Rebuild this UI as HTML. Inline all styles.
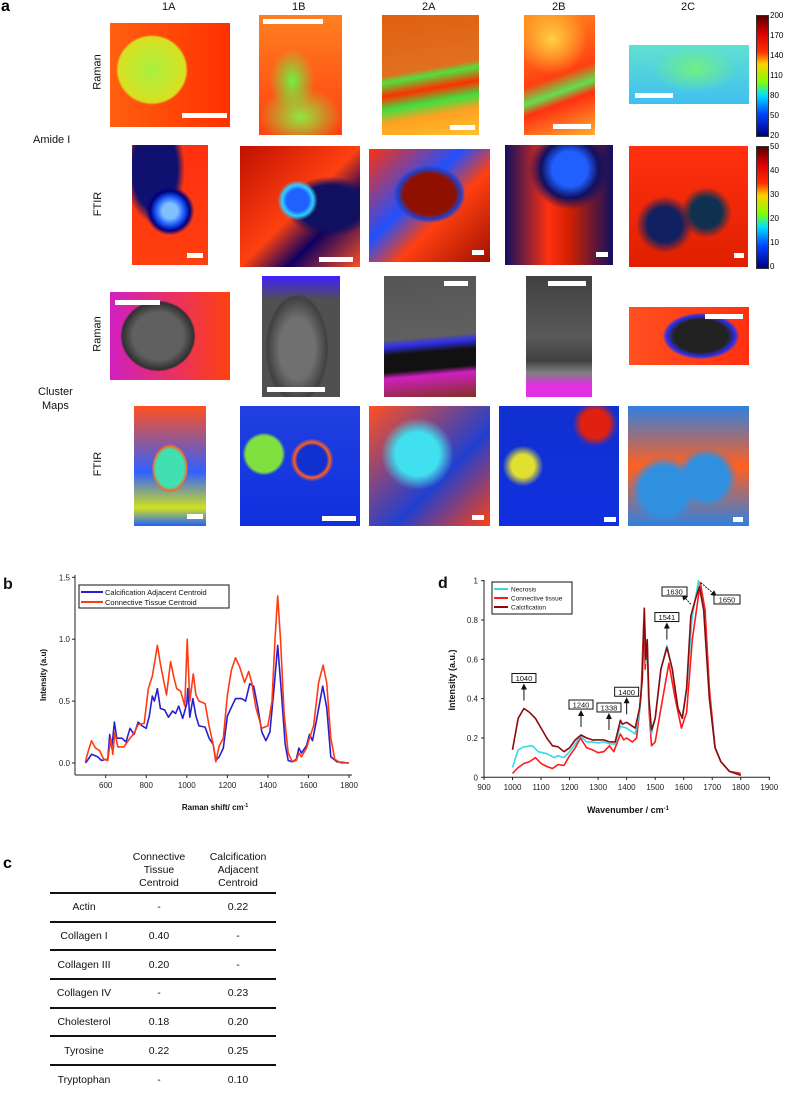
<!DOCTYPE html>
<html><head><meta charset="utf-8">
<style>
body{margin:0;background:#fff;width:789px;height:1088px;position:relative;overflow:hidden;font-family:"Liberation Sans",sans-serif;}
.abs{position:absolute}
.img{position:absolute;overflow:hidden}
.sb{position:absolute;background:#fff;height:5px}
.lbl{position:absolute;font-size:11px;color:#111;white-space:nowrap}
.rot{transform:rotate(-90deg);transform-origin:center}
.cb{position:absolute;width:11px;border:1px solid #333}
.cbt{position:absolute;font-size:8px;left:770px}
table{border-collapse:collapse}
</style></head><body>
<div class="abs" style="left:1px;top:-2px;font-weight:bold;font-size:16px">a</div>
<div class="lbl" style="left:162px;top:1px">1A</div>
<div class="lbl" style="left:292px;top:1px">1B</div>
<div class="lbl" style="left:422px;top:1px">2A</div>
<div class="lbl" style="left:552px;top:1px">2B</div>
<div class="lbl" style="left:681px;top:1px">2C</div>
<div class="lbl rot" style="left:80px;top:66px">Raman</div>
<div class="lbl rot" style="left:86px;top:198px">FTIR</div>
<div class="lbl rot" style="left:80px;top:328px">Raman</div>
<div class="lbl rot" style="left:86px;top:458px">FTIR</div>
<div class="lbl" style="left:33px;top:134px">Amide I</div>
<div class="lbl" style="left:38px;top:385px;text-align:center;line-height:14px">Cluster<br>Maps</div>

<div id="imgs"></div>

<div class="cb" style="left:756px;top:15px;height:120px;background:linear-gradient(#5a0000,#e00000 15%,#ff3000 30%,#ffd000 40%,#80ff00 55%,#00e0ff 66%,#0040ff 82%,#000080)"></div>
<div class="cb" style="left:756px;top:146px;height:121px;background:linear-gradient(#5a0000,#e00000 15%,#ff3000 30%,#ffd000 40%,#80ff00 55%,#00e0ff 66%,#0040ff 82%,#000080)"></div>
<div id="cbt"></div>

<svg class="abs" style="left:0;top:0" width="789" height="1088" id="charts"></svg>

<div class="abs" style="left:3px;top:855px;font-weight:bold;font-size:16px">c</div>
<table class="abs" style="left:50px;top:850px;width:226px;font-size:10.5px;color:#111;text-align:center">
<tr style="height:43px;border-bottom:2px solid #111"><td style="width:66px"></td><td style="width:80px;line-height:13px;vertical-align:bottom;padding-bottom:2px">Connective<br>Tissue<br>Centroid</td><td style="line-height:13px;vertical-align:bottom;padding-bottom:2px">Calcification<br>Adjacent<br>Centroid</td></tr>
</table>

<script>
// ---------- images ----------
const imgs=[
 // [name,x,y,w,h,background,scalebar]
 ['raman-1a',110,23,120,104,'radial-gradient(ellipse 40% 45% at 35% 45%,#a8f040,#d8e020 70%,transparent 75%),linear-gradient(90deg,#ff6010,#ff3000)',[182,113,45]],
 ['raman-1b',259,15,83,120,'radial-gradient(ellipse 30% 30% at 40% 55%,#70f040,transparent 90%),radial-gradient(ellipse 50% 25% at 50% 85%,#90e840,transparent),linear-gradient(#ff8020,#ff4010)',[263,19,60]],
 ['raman-2a',382,15,97,120,'linear-gradient(170deg,#e06010 0%,#e07020 45%,#50e040 50%,#ff3000 60%,#40e040 70%,#ffa020 80%,#ffc030)',[450,125,25]],
 ['raman-2b',524,15,71,120,'radial-gradient(ellipse 50% 30% at 40% 20%,#ffd040,transparent),linear-gradient(160deg,#ff9020,#ff4010 50%,#60e050 62%,#ff3010 70%,#ffb030)',[553,124,38]],
 ['raman-2c',629,45,120,59,'radial-gradient(ellipse 35% 40% at 55% 40%,#70f080,transparent),linear-gradient(#60e0d0,#40c0f0)',[635,93,38]],
 ['ftir-1a',132,145,76,120,'radial-gradient(circle at 50% 55%,#80c0ff 10%,#2060ff 18%,#000080 26%,transparent 32%),radial-gradient(ellipse at 30% 20%,#101070 30%,transparent 40%),linear-gradient(#ff3010,#ff4010)',[187,253,16]],
 ['ftir-1b',240,146,120,121,'radial-gradient(circle at 48% 45%,#2060ff 12%,#30d0ff 17%,transparent 22%),radial-gradient(ellipse at 75% 50%,#101060 25%,transparent 35%),linear-gradient(135deg,#c01000,#ff4010 50%,#100060 70%,#ff5020)',[319,257,34]],
 ['ftir-2a',369,149,121,113,'radial-gradient(ellipse 35% 30% at 50% 40%,#901000 60%,#2040d0 75%,transparent 85%),linear-gradient(135deg,#ff3010,#2050ff 40%,#ff4010 60%,#a01000)',[472,250,12]],
 ['ftir-2b',505,145,108,120,'radial-gradient(circle at 60% 20%,#2060ff 15%,#101060 25%,transparent 35%),linear-gradient(90deg,#101060,#ff3010 40%,#d02000 60%,#101060)',[596,252,12]],
 ['ftir-2c',629,146,119,121,'radial-gradient(circle at 30% 65%,#102060 15%,transparent 25%),radial-gradient(circle at 65% 55%,#103050 15%,transparent 25%),linear-gradient(#ff3010,#e02000)',[734,253,10]],
 ['cluster-raman-1a',110,292,120,88,'radial-gradient(ellipse 35% 45% at 40% 50%,#606060 60%,#303030 85%,transparent 90%),linear-gradient(90deg,#d020c0,#ff4010)',[115,300,45]],
 ['cluster-raman-1b',262,276,78,121,'radial-gradient(ellipse 45% 50% at 45% 60%,#707070 50%,#404040 85%,transparent 90%),linear-gradient(#4020ff,#505050 20%)',[267,387,58]],
 ['cluster-raman-2a',384,276,92,121,'linear-gradient(175deg,#555 0%,#606060 50%,#3030f0 55%,#111 62%,#111 75%,#d020c0 80%,#803020)',[444,281,24]],
 ['cluster-raman-2b',526,276,66,121,'linear-gradient(#404040,#5a5a5a 50%,#404040 70%,#808080 80%,#e030e0 90%)',[548,281,38]],
 ['cluster-raman-2c',629,307,120,58,'radial-gradient(ellipse 32% 40% at 60% 50%,#222 70%,#3030f0 90%,transparent),linear-gradient(90deg,#ff5020,#ff3010)',[705,314,38]],
 ['cluster-ftir-1a',134,406,72,120,'radial-gradient(ellipse 25% 20% at 50% 52%,#40e0b0 80%,#ff6020 95%,transparent),linear-gradient(#ff5020,#3060ff 55%,#d0e020 85%,#2060ff)',[187,514,16]],
 ['cluster-ftir-1b',240,406,120,120,'radial-gradient(circle at 20% 40%,#80e040 15%,transparent 18%),radial-gradient(circle at 60% 45%,#1030d0 15%,#ff6020 18%,transparent 22%),linear-gradient(#2040e0,#1030e0)',[322,516,34]],
 ['cluster-ftir-2a',369,406,121,120,'radial-gradient(ellipse 30% 30% at 40% 40%,#40e0f0 60%,transparent),linear-gradient(135deg,#ff5020,#2040d0 60%,#ff4010)',[472,515,12]],
 ['cluster-ftir-2b',499,406,120,120,'radial-gradient(circle at 20% 50%,#e0e030 10%,transparent 18%),radial-gradient(circle at 80% 15%,#e02010 10%,transparent 16%),linear-gradient(#1030d0,#1030e0)',[604,517,12]],
 ['cluster-ftir-2c',628,406,121,120,'radial-gradient(circle at 30% 70%,#3090e0 20%,transparent 28%),radial-gradient(circle at 65% 60%,#3090e0 20%,transparent 28%),linear-gradient(#3080e0,#ff6020 50%,#3080e0)',[733,517,10]]
];
const ic=document.getElementById('imgs');
imgs.forEach(d=>{
  const e=document.createElement('div');e.className='img';
  
  
  e.style.cssText=`left:${d[1]}px;top:${d[2]}px;width:${d[3]}px;height:${d[4]}px;background:${d[5]}`;
  ic.appendChild(e);
  const s=document.createElement('div');s.className='sb';
  
  
  s.style.cssText=`left:${d[6][0]}px;top:${d[6][1]}px;width:${d[6][2]}px`;
  ic.appendChild(s);
});
const cb1=['200','170','140','110','80','50','20'], cb2=['50','40','30','20','10','0'];
const ct=document.getElementById('cbt');
cb1.forEach((t,i)=>{const e=document.createElement('div');e.className='cbt';
  
  
  e.style.top=(11+i*20)+'px';e.textContent=t;ct.appendChild(e);});
cb2.forEach((t,i)=>{const e=document.createElement('div');e.className='cbt';
  
  
  e.style.top=(142+i*24)+'px';e.textContent=t;ct.appendChild(e);});

// ---------- table ----------
const rowNames=['Actin','Collagen I','Collagen III','Collagen IV','Cholesterol','Tyrosine','Tryptophan'];
const connVals=['-','0.40','0.20','-','0.18','0.22','-'];
const calcVals=['0.22','-','-','0.23','0.20','0.25','0.10'];
const tb=document.querySelector('table');
rowNames.forEach((n,i)=>{
  const tr=document.createElement('tr');
  
  
  tr.style.height='28.7px';
  if(i<rowNames.length-1) tr.style.borderBottom='2px solid #111';
  tr.innerHTML=`<td>${n}</td><td>${connVals[i]}</td><td>${calcVals[i]}</td>`;
  tb.appendChild(tr);
});

// ---------- chart b ----------
const bBlueX=[500,510,530,560,580,600,610,620,630,643,655,680,700,720,740,760,780,800,815,830,840,855,870,890,910,930,945,960,980,1000,1005,1015,1030,1045,1060,1090,1110,1130,1143,1160,1180,1200,1220,1240,1270,1290,1310,1330,1350,1370,1390,1410,1430,1448,1465,1485,1500,1520,1540,1553,1565,1590,1605,1620,1640,1670,1690,1710,1740,1800];
const bBlueY=[0,0.02,0.07,0.05,0.02,0.03,0.02,0.23,0.12,0.33,0.2,0.2,0.17,0.28,0.23,0.33,0.3,0.28,0.38,0.54,0.5,0.6,0.44,0.43,0.37,0.42,0.4,0.46,0.36,0.48,0.6,0.37,0.52,0.38,0.3,0.29,0.2,0.15,0.02,0.05,0.12,0.38,0.45,0.52,0.52,0.5,0.64,0.62,0.45,0.25,0.18,0.25,0.6,0.95,0.6,0.15,0.02,0.01,0.03,0.12,0.08,0.14,0.23,0.18,0.35,0.62,0.45,0.05,0.01,0];
const bRedX=[500,515,530,550,570,590,610,625,635,645,660,690,720,740,760,790,810,830,855,870,900,920,935,950,970,990,1002,1015,1032,1045,1060,1090,1110,1130,1143,1160,1180,1200,1220,1240,1260,1285,1305,1320,1340,1370,1400,1420,1435,1448,1462,1480,1500,1520,1540,1553,1565,1590,1605,1625,1650,1672,1690,1710,1730,1760,1800];
const bRedY=[0.01,0.1,0.18,0.12,0.1,0.03,0.02,0.2,0.07,0.25,0.13,0.13,0.2,0.24,0.31,0.32,0.6,0.7,0.95,0.8,0.55,0.82,0.7,0.6,0.58,0.46,1.0,0.5,0.72,0.55,0.5,0.48,0.3,0.15,0.01,0.14,0.2,0.55,0.75,0.85,0.78,0.65,0.74,0.65,0.45,0.28,0.3,0.5,1.0,1.35,1.0,0.4,0.08,0.01,0.02,0.08,0.05,0.12,0.2,0.3,0.65,0.79,0.65,0.2,0.03,0,0];
const bXTicks=[600,800,1000,1200,1400,1600,1800];
const bYTicks=[0,0.5,1.0,1.5];

// ---------- chart d ----------
const dCalcX=[1000,1020,1040,1060,1080,1100,1120,1140,1160,1180,1200,1220,1240,1260,1280,1300,1320,1340,1360,1378,1385,1400,1420,1430,1445,1455,1462,1467,1472,1478,1487,1500,1520,1541,1560,1580,1595,1610,1625,1640,1655,1670,1690,1710,1730,1760,1800];
const dCalcY=[0.14,0.3,0.35,0.33,0.3,0.25,0.2,0.16,0.155,0.13,0.15,0.19,0.215,0.2,0.19,0.19,0.19,0.18,0.18,0.29,0.27,0.28,0.26,0.25,0.35,0.5,0.86,0.6,0.7,0.4,0.24,0.3,0.55,0.66,0.55,0.35,0.3,0.45,0.82,0.9,0.97,0.85,0.4,0.15,0.08,0.03,0.01];
const dNecX=[1000,1020,1040,1070,1090,1120,1145,1160,1180,1200,1220,1238,1260,1280,1300,1320,1340,1360,1378,1400,1420,1430,1445,1455,1462,1467,1472,1478,1487,1500,1520,1541,1560,1580,1595,1610,1630,1652,1670,1690,1710,1730,1760,1800];
const dNecY=[0.05,0.14,0.155,0.16,0.13,0.12,0.1,0.11,0.1,0.13,0.17,0.21,0.18,0.18,0.175,0.18,0.17,0.17,0.26,0.25,0.23,0.22,0.33,0.5,0.85,0.58,0.7,0.38,0.22,0.3,0.55,0.67,0.55,0.35,0.3,0.45,0.82,1.0,0.85,0.4,0.15,0.08,0.03,0.01];
const dConX=[1000,1020,1040,1060,1080,1100,1120,1140,1160,1180,1200,1220,1238,1260,1280,1300,1320,1340,1355,1378,1390,1400,1420,1435,1450,1460,1465,1472,1478,1487,1500,1520,1548,1570,1592,1610,1630,1658,1675,1690,1710,1730,1760,1800];
const dConY=[0.02,0.05,0.07,0.08,0.1,0.07,0.055,0.045,0.065,0.06,0.11,0.15,0.2,0.15,0.14,0.125,0.13,0.16,0.13,0.22,0.19,0.2,0.18,0.2,0.4,0.8,0.55,0.68,0.35,0.16,0.18,0.35,0.58,0.4,0.25,0.33,0.7,0.99,0.85,0.45,0.15,0.08,0.03,0.02];
const dXTicks=[900,1000,1100,1200,1300,1400,1500,1600,1700,1800,1900];
const dYTicks=[0,0.2,0.4,0.6,0.8,1];
const dAnnLabels=['1040','1240','1338','1400','1541'];
const dAnnX=[1040,1240,1338,1400,1541];
const dAnnY=[0.35,0.215,0.2,0.28,0.66];

const svg=document.getElementById('charts');
const NS='http://www.w3.org/2000/svg';
function mk(tag,attrs,parent){const e=document.createElementNS(NS,tag);for(const k in attrs)e.setAttribute(k,attrs[k]);(parent||svg).appendChild(e);return e;}

// b axes
const bx=v=>85.4+(v-500)*0.2028, by=v=>763-v*123.8;
const gb=mk('g',{});


mk('line',{x1:75,y1:575,x2:75,y2:775,stroke:'#222','stroke-width':1},gb);
mk('line',{x1:75,y1:775,x2:352,y2:775,stroke:'#222','stroke-width':1},gb);
bXTicks.forEach(t=>{mk('line',{x1:bx(t),x2:bx(t),y1:775,y2:778,stroke:'#222'},gb);
  const tx=mk('text',{x:bx(t),y:788,'font-size':8,'text-anchor':'middle',fill:'#222'},gb);tx.textContent=t;
  
  });
bYTicks.forEach(t=>{mk('line',{x1:72,x2:75,y1:by(t),y2:by(t),stroke:'#222'},gb);
  const tx=mk('text',{x:70,y:by(t)+3,'font-size':8,'text-anchor':'end',fill:'#222'},gb);tx.textContent=t.toFixed(1);
  
  });
let t1=mk('text',{x:215,y:810,'font-size':8,'font-weight':'bold','text-anchor':'middle',fill:'#111'},gb);
t1.innerHTML='Raman shift/ cm<tspan dy="-3" font-size="5">-1</tspan>';


let t2=mk('text',{x:0,y:0,'font-size':8,'font-weight':'bold','text-anchor':'middle',fill:'#111',transform:'translate(46,675) rotate(-90)'},gb);
t2.textContent='Intensity (a.u)';


function line(xs,ys,fx,fy,col,w,name,g){const d=xs.map((x,i)=>(i?'L':'M')+fx(x).toFixed(1)+','+fy(ys[i]).toFixed(1)).join('');
  const p=mk('path',{d,fill:'none',stroke:col,'stroke-width':w,'stroke-linejoin':'round'},g);
  
  }
line(bBlueX,bBlueY,bx,by,'#2a1fd0',1.6,'calcification-adjacent-line',gb);
line(bRedX,bRedY,bx,by,'#ff3b14',1.6,'connective-tissue-line',gb);
const lgb=mk('g',{},gb);


mk('rect',{x:79,y:585,width:150,height:23,fill:'#fff',stroke:'#111','stroke-width':1},lgb);
mk('line',{x1:81,x2:103,y1:592,y2:592,stroke:'#2a1fd0','stroke-width':2},lgb);
mk('line',{x1:81,x2:103,y1:602,y2:602,stroke:'#ff3b14','stroke-width':2},lgb);
mk('text',{x:105,y:595,'font-size':7.5,fill:'#111'},lgb).textContent='Calcification Adjacent Centroid';
mk('text',{x:105,y:605,'font-size':7.5,fill:'#111'},lgb).textContent='Connective Tissue Centroid';
let lb=mk('text',{x:3,y:589,'font-size':16,'font-weight':'bold',fill:'#111'});lb.textContent='b';



// d axes
const dx=v=>484+(v-900)*0.2853, dy=v=>777.3-v*196.6;
const gd=mk('g',{});


mk('line',{x1:484,y1:580,x2:484,y2:777,stroke:'#222'},gd);
mk('line',{x1:484,y1:777.3,x2:770,y2:777.3,stroke:'#222'},gd);
dXTicks.forEach(t=>{mk('line',{x1:dx(t),x2:dx(t),y1:777,y2:780,stroke:'#222'},gd);
  const tx=mk('text',{x:dx(t),y:790,'font-size':8,'text-anchor':'middle',fill:'#222'},gd);tx.textContent=t;
  
  });
dYTicks.forEach(t=>{mk('line',{x1:481,x2:484,y1:dy(t),y2:dy(t),stroke:'#222'},gd);
  const tx=mk('text',{x:478,y:dy(t)+3,'font-size':8,'text-anchor':'end',fill:'#222'},gd);tx.textContent=t;
  
  });
let t3=mk('text',{x:628,y:813,'font-size':9,'font-weight':'bold','text-anchor':'middle',fill:'#111'},gd);
t3.innerHTML='Wavenumber / cm<tspan dy="-3" font-size="6">-1</tspan>';


let t4=mk('text',{x:0,y:0,'font-size':9,'font-weight':'bold','text-anchor':'middle',fill:'#111',transform:'translate(455,680) rotate(-90)'},gd);
t4.textContent='Intensity (a.u.)';


line(dConX,dConY,dx,dy,'#ff1a1a',1.6,'connective-tissue-ftir-line',gd);
line(dNecX,dNecY,dx,dy,'#38d8ec',1.6,'necrosis-line',gd);
line(dCalcX,dCalcY,dx,dy,'#8e0a0a',1.6,'calcification-line',gd);
mk('defs',{}).innerHTML='<marker id="ah" markerWidth="6" markerHeight="6" refX="3" refY="3" orient="auto"><path d="M0,0L6,3L0,6z" fill="#111"/></marker>';
dAnnLabels.forEach((l,i)=>{
  const x=dx(dAnnX[i]), y0=dy(dAnnY[i])-8, y1=y0-14;
  const a=mk('line',{x1:x,x2:x,y1:y0,y2:y1,stroke:'#111','stroke-width':1,'marker-end':'url(#ah)'},gd);
  
  
  const g=mk('g',{},gd);
  
  
  mk('rect',{x:x-12,y:y1-13,width:24,height:9,fill:'#fff',stroke:'#111','stroke-width':1},g);
  mk('text',{x:x,y:y1-5.5,'font-size':7.5,'text-anchor':'middle',fill:'#111'},g).textContent=l;
});
// 1630 / 1650 dashed annotations
const g1=mk('g',{},gd);


mk('line',{x1:dx(1625),y1:dy(0.88),x2:dx(1600),y2:dy(0.92),stroke:'#111','stroke-dasharray':'2,1','marker-end':'url(#ah)'},g1);
mk('rect',{x:662,y:587,width:25,height:9,fill:'#fff',stroke:'#111'},g1);
mk('text',{x:674.5,y:594.5,'font-size':7.5,'text-anchor':'middle',fill:'#111'},g1).textContent='1630';
const g2=mk('g',{},gd);


mk('line',{x1:dx(1660),y1:dy(0.99),x2:dx(1708),y2:dy(0.93),stroke:'#111','stroke-dasharray':'2,1','marker-end':'url(#ah)'},g2);
mk('rect',{x:714,y:595,width:26,height:9,fill:'#fff',stroke:'#111'},g2);
mk('text',{x:727,y:602.5,'font-size':7.5,'text-anchor':'middle',fill:'#111'},g2).textContent='1650';
const lgd=mk('g',{},gd);


mk('rect',{x:492,y:582,width:80,height:32,fill:'#fff',stroke:'#111'},lgd);
[['Necrosis','#38d8ec'],['Connective tissue','#ff1a1a'],['Calcification','#8e0a0a']].forEach((e,i)=>{
  mk('line',{x1:494,x2:508,y1:589+i*9,y2:589+i*9,stroke:e[1],'stroke-width':2},lgd);
  mk('text',{x:511,y:591.5+i*9,'font-size':6.5,fill:'#111'},lgd).textContent=e[0];
});
let ld=mk('text',{x:438,y:588,'font-size':16,'font-weight':'bold',fill:'#111'});ld.textContent='d';


</script>
</body></html>
